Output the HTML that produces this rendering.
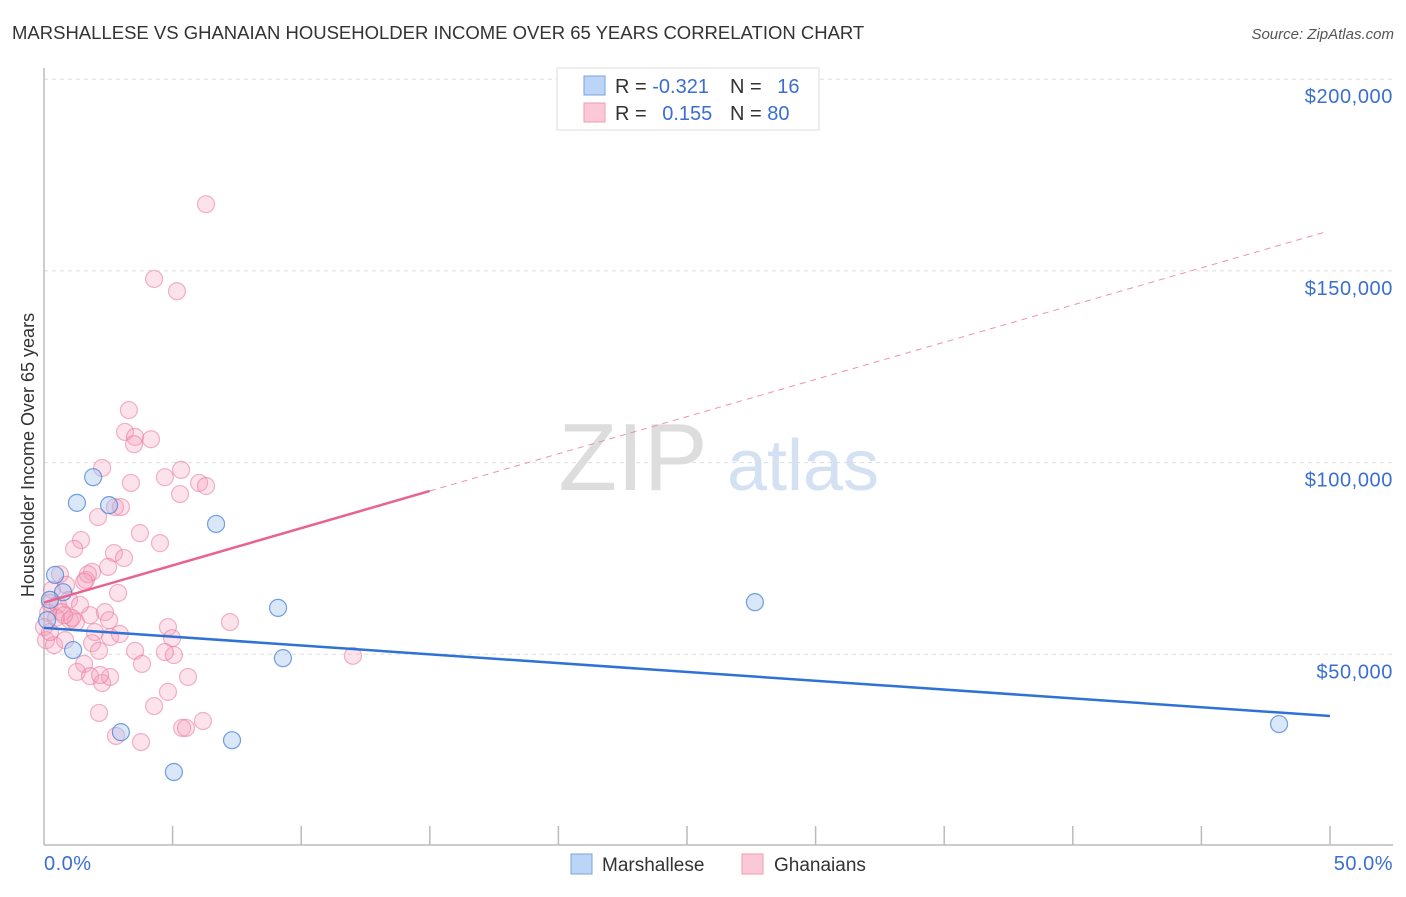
<!DOCTYPE html>
<html><head><meta charset="utf-8">
<style>
body{margin:0;background:#fff;font-family:"Liberation Sans",sans-serif;}
svg text{font-family:"Liberation Sans",sans-serif;}
</style></head>
<body>
<svg id="chart" width="1406" height="892" xmlns="http://www.w3.org/2000/svg">
<text x="12" y="39" font-size="18.5" fill="#333">MARSHALLESE VS GHANAIAN HOUSEHOLDER INCOME OVER 65 YEARS CORRELATION CHART</text>
<text x="1394" y="39" font-size="15" fill="#555" text-anchor="end" font-style="italic">Source: ZipAtlas.com</text>
<g>
<text x="633" y="490" font-size="96" fill="#ddd" text-anchor="middle" font-family="Liberation Serif, serif">ZIP</text>
<text x="803" y="490" font-size="72" fill="#d3e1f3" text-anchor="middle">atlas</text>
</g>
<g id="grid"></g>
<g id="axes"></g>
<g id="marks"></g>
<text transform="translate(34,455) rotate(-90)" font-size="18" fill="#333" text-anchor="middle">Householder Income Over 65 years</text>
<g>
<rect x="557" y="68" width="262" height="62" fill="#fff" stroke="#ddd"/>
<rect x="584" y="76" width="21" height="19" fill="#bcd4f5" stroke="#7aa3e0"/>
<rect x="584" y="103" width="21" height="19" fill="#fbc8d7" stroke="#ef9bb4"/>
<text x="615" y="93" font-size="20" fill="#333">R = <tspan fill="#3a6fd0">-0.321</tspan></text>
<text x="730" y="93" font-size="20" fill="#333">N = <tspan fill="#3a6fd0" dx="10">16</tspan></text>
<text x="615" y="120" font-size="20" fill="#333">R = <tspan fill="#3a6fd0" dx="10">0.155</tspan></text>
<text x="730" y="120" font-size="20" fill="#333">N = <tspan fill="#3a6fd0">80</tspan></text>
</g>
<g>
<rect x="571" y="854" width="21" height="20" fill="#bcd4f5" stroke="#7aa3e0"/>
<text x="602" y="871" font-size="19" fill="#333">Marshallese</text>
<rect x="742" y="854" width="21" height="20" fill="#fbc8d7" stroke="#ef9bb4"/>
<text x="774" y="871" font-size="19" fill="#333">Ghanaians</text>
</g>
</svg>
<script>
const yTicks=[50000,100000,150000,200000];
const yTickLabels=["$50,000","$100,000","$150,000","$200,000"];
const xTickLabels=["0.0%","50.0%"];
const blueX=[0.43,1.28,1.91,2.53,6.69,0.74,1.13,2.99,5.05,7.31,9.10,9.29,27.64,48.02,0.12,0.23];
const blueY=[70.7,89.5,96.2,88.9,84.0,66.2,51.1,29.7,19.3,27.6,62.1,49.0,63.6,31.8,58.9,64.2];
const pinkX=[6.30,4.28,5.17,3.30,3.15,3.54,4.16,3.50,2.26,5.33,4.70,6.03,6.30,3.38,5.29,2.76,2.99,2.10,3.73,4.51,1.44,1.17,2.72,3.11,2.49,1.87,0.62,0.86,1.63,1.71,1.56,0.31,2.88,0.23,0.54,0.97,0.70,0.16,0.47,1.01,1.24,1.09,1.79,2.37,2.53,0.78,0.0,0.08,0.39,1.98,2.57,4.82,4.98,7.23,1.87,2.14,3.54,5.05,4.70,3.81,1.56,1.28,1.79,2.26,2.57,2.18,5.60,12.01,4.82,4.28,2.14,2.80,3.77,5.37,5.52,6.18,0.23,2.95,1.40,0.82];
const pinkY=[167.4,147.9,144.7,113.7,108.0,106.7,106.1,104.8,98.6,98.1,96.2,94.7,93.9,94.7,91.8,88.4,88.4,85.8,81.6,79.0,79.8,77.5,76.4,75.1,72.8,71.5,70.9,68.1,69.4,70.9,68.9,66.8,66.0,63.4,62.9,64.2,61.0,60.8,59.5,58.9,58.4,59.5,60.2,61.0,58.9,60.2,57.1,53.7,52.4,55.8,54.5,57.1,54.2,58.4,52.9,50.9,50.9,49.8,50.6,47.5,47.5,45.4,44.3,42.5,44.1,44.6,44.1,49.6,40.2,36.5,34.7,28.7,27.1,30.8,30.8,32.6,55.8,55.3,62.9,53.7];
const blueTrend=[56.9,33.9];
const pinkTrend=[63.5,1.94];

const NS="http://www.w3.org/2000/svg";
const X=p=>44+p*25.72;
const Y=v=>846-v/50000*191.7;
const Yk=k=>Y(k*1000);
function mk(tag,attrs,parent){const e=document.createElementNS(NS,tag);for(const k in attrs)e.setAttribute(k,attrs[k]);parent.appendChild(e);return e;}
const grid=document.getElementById('grid'),axes=document.getElementById('axes'),marks=document.getElementById('marks');
yTicks.forEach((t,i)=>{
  const l=mk('line',{x1:44,x2:1393,y1:Y(t),y2:Y(t),stroke:'#ddd','stroke-dasharray':'4,4'},grid);
  
  
  const tx=mk('text',{x:1393,y:Y(t)+24,'font-size':20,'letter-spacing':'0.6',fill:'#3a6fd0','text-anchor':'end'},axes);
  tx.textContent=yTickLabels[i];
  
  
});
let a=mk('line',{x1:44,x2:44,y1:68,y2:845,stroke:'#bbb','stroke-width':1.5},axes);


a=mk('line',{x1:44,x2:1393,y1:845,y2:845,stroke:'#bbb','stroke-width':1.5},axes);


for(let p=5;p<=50;p+=5){const t=mk('line',{x1:X(p),x2:X(p),y1:826,y2:845,stroke:'#bbb','stroke-width':1.5},axes);
  
  }
let xt=mk('text',{x:44,y:870,'font-size':20,'letter-spacing':'0.5',fill:'#3a6fd0'},axes);xt.textContent=xTickLabels[0];


xt=mk('text',{x:1393,y:870,'font-size':20,'letter-spacing':'0.5',fill:'#3a6fd0','text-anchor':'end'},axes);xt.textContent=xTickLabels[1];


pinkX.forEach((x,i)=>{const c=mk('circle',{cx:X(x),cy:Yk(pinkY[i]),r:8.5,fill:'rgba(246,160,188,0.3)',stroke:'rgba(232,120,155,0.55)','stroke-width':1.2},marks);
  
  });
blueX.forEach((x,i)=>{const c=mk('circle',{cx:X(x),cy:Yk(blueY[i]),r:8.5,fill:'rgba(160,196,240,0.4)',stroke:'rgba(70,130,215,0.75)','stroke-width':1.2},marks);
  
  });
let tl=mk('line',{x1:X(0),y1:Yk(blueTrend[0]),x2:X(50),y2:Yk(blueTrend[1]),stroke:'#2f72d6','stroke-width':2.5},marks);


const pf=p=>pinkTrend[0]+pinkTrend[1]*p;
tl=mk('line',{x1:X(0),y1:Yk(pf(0)),x2:X(15),y2:Yk(pf(15)),stroke:'#e8648f','stroke-width':2.5},marks);


tl=mk('line',{x1:X(15),y1:Yk(pf(15)),x2:X(49.8),y2:Yk(pf(49.8)),stroke:'#ec93ae','stroke-width':1,'stroke-dasharray':'6,5'},marks);


</script>
</body></html>
